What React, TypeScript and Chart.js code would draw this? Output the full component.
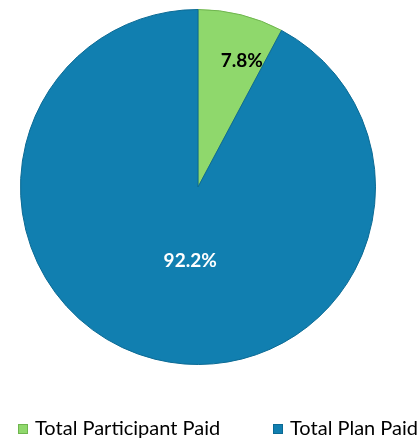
import React, { useEffect, useRef } from "react";
import { Chart, registerables } from "chart.js";

Chart.register(...registerables);

const categories = ["Total Participant Paid", "Total Plan Paid"];
const values = [7.8, 92.2];
const colors = ["#8fd86c", "#117fb0"];
const borderColors = ["#6fb54e", "#0b6a94"];
const labelColors = ["#000000", "#ffffff"];

const FONT = "Lato, 'Open Sans', sans-serif";
const labelRadius = [0.75, 0.42];
const labelAngleShift = [0.09, -0.14];

const labelPlugin = {
  id: "sliceLabels",
  afterDatasetsDraw(chart: any) {
    const ctx = chart.ctx;
    const meta = chart.getDatasetMeta(0);
    ctx.save();
    ctx.textAlign = "center";
    ctx.textBaseline = "middle";
    ctx.font = `bold 19px ${FONT}`;
    meta.data.forEach((arc: any, i: number) => {
      const { x, y, outerRadius, startAngle, endAngle } = arc.getProps(
        ["x", "y", "outerRadius", "startAngle", "endAngle"],
        true
      );
      const mid = (startAngle + endAngle) / 2 + labelAngleShift[i];
      const r = outerRadius * labelRadius[i];
      ctx.fillStyle = labelColors[i];
      ctx.fillText(values[i].toFixed(1) + "%", x + Math.cos(mid) * r, y + Math.sin(mid) * r);
    });
    ctx.restore();
  },
};

const legendPlugin = {
  id: "customLegend",
  afterDraw(chart: any) {
    const ctx = chart.ctx;
    const xs = [18, 273];
    ctx.save();
    ctx.font = `20px ${FONT}`;
    ctx.textBaseline = "middle";
    ctx.textAlign = "left";
    categories.forEach((c, i) => {
      ctx.fillStyle = colors[i];
      ctx.fillRect(xs[i], 424, 10, 10);
      ctx.strokeStyle = borderColors[i];
      ctx.lineWidth = 1;
      ctx.strokeRect(xs[i] + 0.5, 424.5, 9, 9);
      ctx.fillStyle = "#000000";
      ctx.fillText(c, xs[i] + 17, 429);
    });
    ctx.restore();
  },
};

export default function App() {
  const ref = useRef<HTMLCanvasElement>(null);
  useEffect(() => {
    document.body.style.margin = "0";
    const chart = new Chart(ref.current!, {
      type: "pie",
      data: {
        labels: categories,
        datasets: [
          {
            data: values,
            backgroundColor: colors,
            borderColor: borderColors,
            borderWidth: 1,
          },
        ],
      },
      options: {
        animation: false,
        responsive: false,
        layout: { padding: { left: 20, right: 41, top: 9, bottom: 75 } },
        plugins: {
          legend: { display: false },
          tooltip: { enabled: false },
        },
      },
      plugins: [labelPlugin, legendPlugin],
    });
    return () => chart.destroy();
  }, []);
  return (
    <div style={{ width: 417, height: 440, background: "#fff" }}>
      <canvas ref={ref} width={417} height={440} />
    </div>
  );
}
